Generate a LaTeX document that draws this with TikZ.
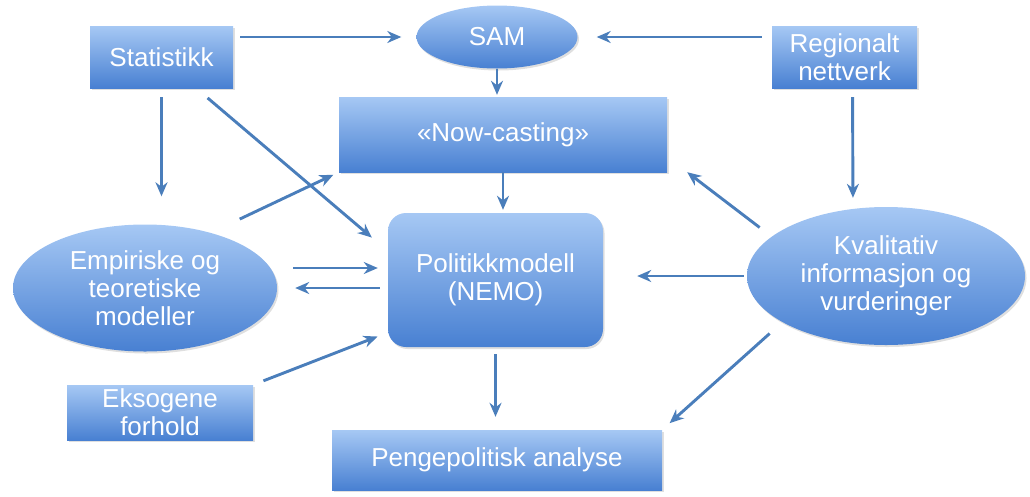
\documentclass[tikz,border=0pt]{standalone}
\usepackage{fontspec}
\setmainfont{Liberation Sans}
\usetikzlibrary{arrows.meta,shapes.geometric,shadows}
\definecolor{boxtop}{HTML}{A6C8F4}
\definecolor{boxbot}{HTML}{4880D2}
\definecolor{arrowblue}{HTML}{4A7EBB}

\begin{document}
\begin{tikzpicture}[x=1pt, y=-1pt,
    block/.style={top color=boxtop, bottom color=boxbot, draw=none, text=white, align=center,
        inner sep=0pt, font=\fontsize{26}{28}\selectfont,
        drop shadow={opacity=0.25, shadow xshift=1.5pt, shadow yshift=-2pt}},
    boxnode/.style={block, rectangle},
    oval/.style={block, ellipse},
    link/.style={draw=arrowblue, line width=2.9pt, -{Stealth[length=14pt, width=12pt]}}]
    \useasboundingbox (0,0) rectangle (1030,496);
    \node[boxnode, minimum width=143pt, minimum height=62pt] (stat) at (161.5,57) {Statistikk};
    \node[oval, minimum width=161pt, minimum height=63pt] (sam) at (497,37) {SAM};
    \node[boxnode, minimum width=145pt, minimum height=62pt] (reg) at (844.5,57) {Regionalt\\nettverk};
    \node[boxnode, minimum width=328pt, minimum height=75pt] (now) at (503,134.5) {«Now-casting»};
    \node[boxnode, rounded corners=18pt, minimum width=215pt, minimum height=134pt] (pol) at (495.5,280) {Politikkmodell\\(NEMO)};
    \node[oval, minimum width=264pt, minimum height=127pt] (emp) at (145,288) {Empiriske og\\teoretiske\\modeller};
    \node[oval, minimum width=278pt, minimum height=138pt] (kval) at (886,276) {Kvalitativ\\informasjon og\\vurderinger};
    \node[boxnode, minimum width=186pt, minimum height=55pt] (eks) at (160,412.5) {Eksogene\\forhold};
    \node[boxnode, minimum width=330pt, minimum height=60pt] (peng) at (497,460) {Pengepolitisk analyse};
    \draw[link, shorten <=7pt, shorten >=15pt] (stat.east |- sam.west) -- (sam.west);
    \draw[link, shorten <=10pt, shorten >=19pt] (reg.west |- sam.east) -- (sam.east);
    \draw[link, shorten >=2pt] (sam.south) -- (sam.south |- now.north);
    \draw[link, shorten <=9pt, shorten >=28pt] (stat.south) -- (stat.south |- emp.north);
    \draw[link, shorten <=15pt, shorten >=21pt] (stat.-42) -- (pol.165);
    \draw[link, shorten <=32pt, shorten >=6pt] (emp.40) -- (now.south west);
    \draw[link, shorten >=3pt] (now.south) -- (now.south |- pol.north);
    \draw[link, shorten <=16pt, shorten >=10pt] ([yshift=20pt]emp.east) -- ([yshift=12pt]pol.west);
    \draw[link, shorten <=8pt, shorten >=18pt] ([yshift=-8pt]pol.west) -- (emp.east);
    \draw[link, shorten <=11pt, shorten >=11pt] (eks.north east) -- (pol.206);
    \draw[link, shorten <=7pt, shorten >=13pt] (pol.south) -- (pol.south |- peng.north);
    \draw[link, shorten <=3pt, shorten >=34pt] (kval.west) -- (kval.west -| pol.east);
    \draw[link, shorten <=15pt] (kval.161) -- ([xshift=20pt]now.south east);
    \draw[link, shorten <=17pt, shorten >=10pt] (kval.204) -- (peng.north east);
    \draw[link, shorten <=9pt, shorten >=9pt] ([xshift=8pt]reg.south) -- ([xshift=-33pt]kval.north);
\end{tikzpicture}
\end{document}
